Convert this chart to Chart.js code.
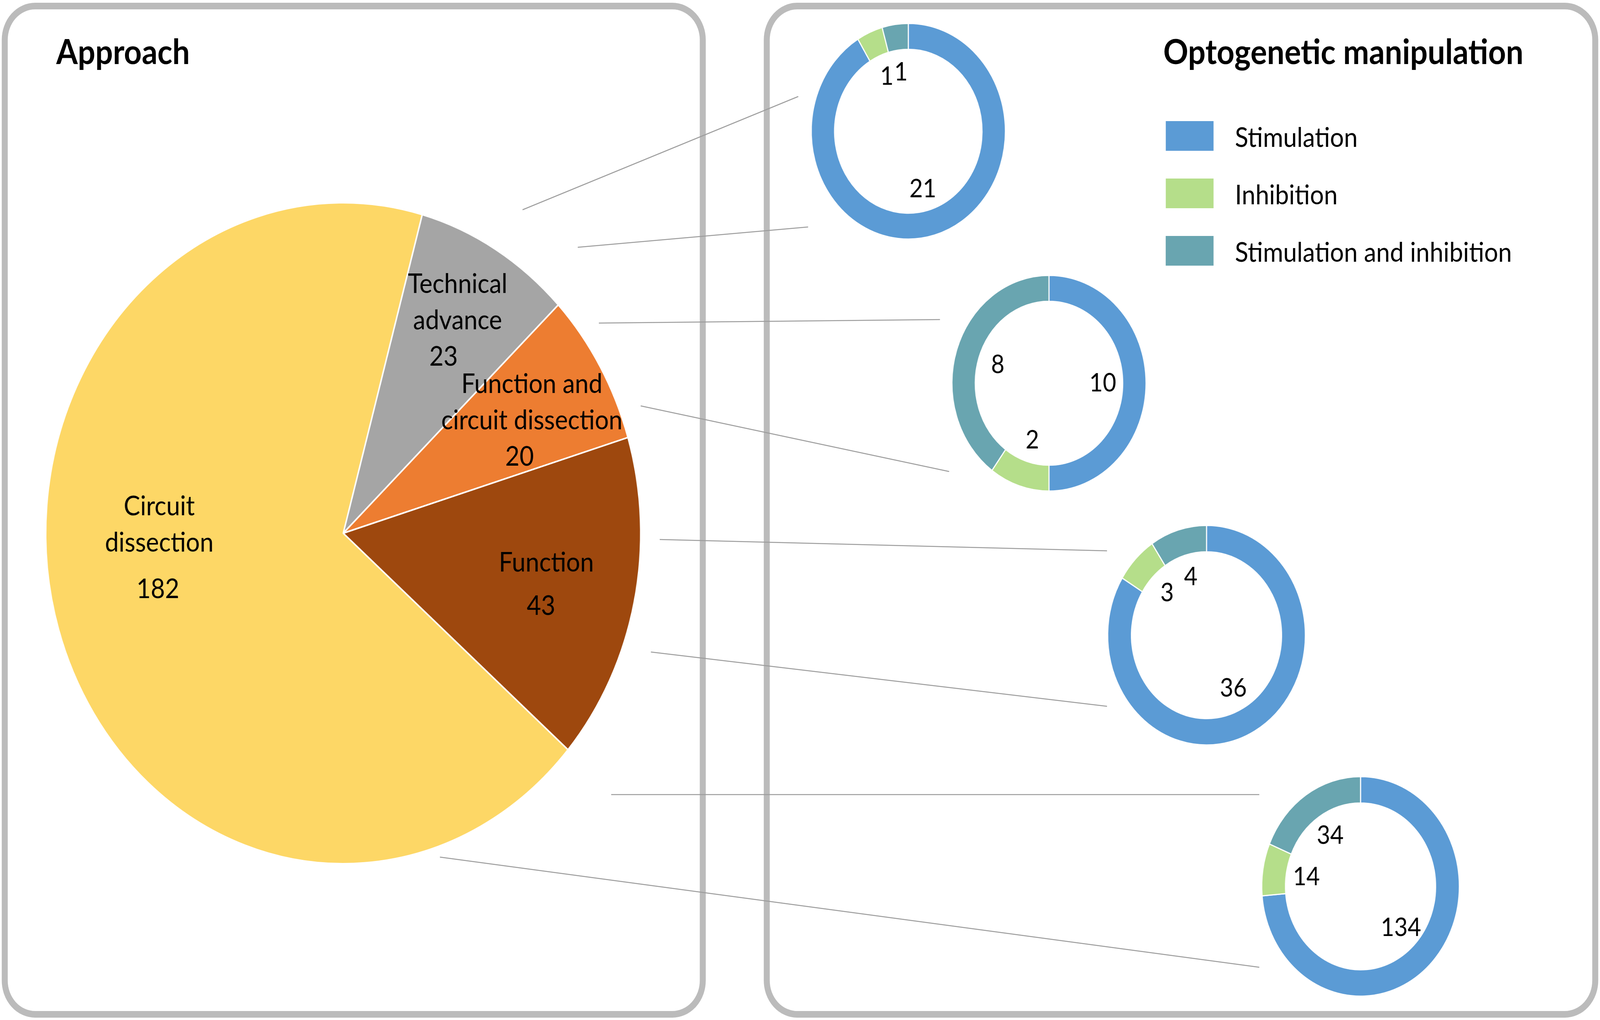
<!DOCTYPE html>
<html>
<head>
<meta charset="utf-8">
<script src="https://cdn.jsdelivr.net/npm/chart.js@4.4.0/dist/chart.umd.min.js"></script>
<style>
  html, body { margin: 0; padding: 0; background: #fff; overflow: hidden; }
  body { font-family: Lato, "Open Sans", sans-serif; }
  #page { position: absolute; left: 0; top: 0; width: 4550px; height: 2611px; transform-origin: 0 0; }
  .box { position: absolute; box-sizing: border-box; border: 17px solid #BBBBBB; border-radius: 95px; }
  canvas { position: absolute; }
  .title { position: absolute; font-weight: bold; font-size: 88px; line-height: 1.2; color: #000; white-space: nowrap; }
  .legText { position: absolute; font-size: 70px; line-height: 1.2; color: #000; white-space: nowrap; }
  .legSwatch { position: absolute; width: 136px; height: 76px; }
</style>
</head>
<body>
<div id="page">
<div class="box" style="left:5px;top:7px;width:2002px;height:2598px"></div>
<div class="box" style="left:2172px;top:7px;width:2373px;height:2598px"></div>
<canvas id="connectors" width="4550" height="2611" style="left:0;top:0"></canvas>
<div class="title" style="left:160px;top:78px">Approach</div>
<div class="title" style="left:3308px;top:78px">Optogenetic manipulation</div>
<div id="legend"></div>
<canvas id="pie"></canvas>
<canvas id="donut0"></canvas>
<canvas id="donut1"></canvas>
<canvas id="donut2"></canvas>
<canvas id="donut3"></canvas>
</div>
<script>
// approach categories (pie), clockwise from the gray slice
const approaches = [['Technical', 'advance'], ['Function and', 'circuit dissection'], ['Function'], ['Circuit', 'dissection']];
const approachCounts = [23, 20, 43, 182];

// optogenetic manipulation split for each approach
const manipulations = ['Stimulation', 'Inhibition', 'Stimulation and inhibition'];
const technicalSplit = [21, 1, 1];
const funcCircuitSplit = [10, 2, 8];
const functionSplit = [36, 3, 4];
const circuitSplit = [134, 14, 34];

const approachColors = ['#A5A5A5', '#ED7D31', '#9E480E', '#FDD766'];
const manipColors = ['#5B9BD5', '#B5DE8A', '#69A5B0'];

// label placement inside the pie slices (fraction of radius, extra turn in degrees)
const pieLabelReach = [0.75, 0.72, 0.70, 0.62];
const pieLabelTurn = [0, 2, 0.7, 12.7];
const pieValueGap = [0, 0, 18, 26];
const pieValueShift = [-40, -35, -15, -4];

// grey leader lines from the pie to the donuts
const connectors = [
  [1486, 537, 2270, 247], [1643, 633, 2298, 581],
  [1703, 827, 2673, 818], [1822, 1039, 2699, 1207],
  [1876, 1381, 3148, 1410], [1851, 1669, 3148, 1808],
  [1738, 2034, 3581, 2034], [1251, 2194, 3581, 2476]
];

// fit the 4550x2611 drawing into whatever viewport we get
const sx = window.innerWidth / 4550, sy = window.innerHeight / 2611;
document.getElementById('page').style.transform = 'scale(' + sx + ',' + sy + ')';

const lc = document.getElementById('connectors').getContext('2d');
lc.strokeStyle = '#9C9C9C';
lc.lineWidth = 2.5;
connectors.forEach(function (c) {
  lc.beginPath();
  lc.moveTo(c[0], c[1]);
  lc.lineTo(c[2], c[3]);
  lc.stroke();
});

// legend
const legend = document.getElementById('legend');
manipulations.forEach(function (name, i) {
  const top = 310 + i * 147;
  const sw = document.createElement('div');
  sw.className = 'legSwatch';
  sw.style.left = '3315px';
  sw.style.top = top + 'px';
  sw.style.background = manipColors[i];
  legend.appendChild(sw);
  const tx = document.createElement('div');
  tx.className = 'legText';
  tx.textContent = name;
  tx.style.left = '3512px';
  tx.style.top = (top + 38 + 28 - 0.987 * 70) + 'px';
  legend.appendChild(tx);
});

function place(id, cx, cy, size) {
  const cv = document.getElementById(id);
  cv.width = size;
  cv.height = size;
  cv.style.left = (cx - size / 2) + 'px';
  cv.style.top = (cy - size / 2) + 'px';
  return cv.getContext('2d');
}

const pieLabels = {
  id: 'pieLabels',
  afterDatasetsDraw(chart) {
    const ctx = chart.ctx;
    const meta = chart.getDatasetMeta(0);
    const values = chart.data.datasets[0].data;
    ctx.save();
    ctx.font = '70px Lato, "Open Sans", sans-serif';
    ctx.fillStyle = '#000';
    ctx.textAlign = 'center';
    ctx.textBaseline = 'middle';
    meta.data.forEach(function (arc, i) {
      const p = arc.getProps(['x', 'y', 'startAngle', 'endAngle', 'outerRadius'], true);
      const mid = (p.startAngle + p.endAngle) / 2 + pieLabelTurn[i] * Math.PI / 180;
      const r = pieLabelReach[i] * p.outerRadius;
      const ax = p.x + r * Math.cos(mid);
      const ay = p.y + r * Math.sin(mid);
      const lines = chart.data.labels[i].concat([String(values[i])]);
      const step = 93;
      const total = (lines.length - 1) * step + pieValueGap[i];
      let y = ay - total / 2;
      lines.forEach(function (t, k) {
        const last = k === lines.length - 1;
        if (last) y += pieValueGap[i];
        ctx.fillText(t, ax + (last ? pieValueShift[i] : 0), y);
        y += step;
      });
    });
    ctx.restore();
  }
};

const donutLabels = {
  id: 'donutLabels',
  afterDatasetsDraw(chart) {
    const ctx = chart.ctx;
    const meta = chart.getDatasetMeta(0);
    const values = chart.data.datasets[0].data;
    ctx.save();
    ctx.font = '66px Lato, "Open Sans", sans-serif';
    ctx.fillStyle = '#000';
    ctx.textAlign = 'center';
    ctx.textBaseline = 'middle';
    meta.data.forEach(function (arc, i) {
      const p = arc.getProps(['x', 'y', 'startAngle', 'endAngle', 'innerRadius'], true);
      const mid = (p.startAngle + p.endAngle) / 2;
      const r = 0.73 * p.innerRadius;
      ctx.fillText(String(values[i]), p.x + r * Math.cos(mid), p.y + r * Math.sin(mid));
    });
    ctx.restore();
  }
};

const baseOpts = {
  responsive: false,
  animation: false,
  events: [],
  devicePixelRatio: 1,
  layout: { padding: 0 },
  plugins: { legend: { display: false }, tooltip: { enabled: false } }
};

new Chart(place('pie', 976, 1365, 1720), {
  type: 'pie',
  data: {
    labels: approaches,
    datasets: [{
      data: approachCounts,
      backgroundColor: approachColors,
      borderColor: '#FFFFFF',
      borderWidth: 4
    }]
  },
  options: Object.assign({}, baseOpts, { rotation: 15.4, radius: 846 }),
  plugins: [pieLabels]
});

const donuts = [
  { id: 'donut0', split: technicalSplit, cx: 2583, cy: 336, r: 276 },
  { id: 'donut1', split: funcCircuitSplit, cx: 2983, cy: 981, r: 276 },
  { id: 'donut2', split: functionSplit, cx: 3431, cy: 1626, r: 281 },
  { id: 'donut3', split: circuitSplit, cx: 3869, cy: 2269, r: 281 }
];

donuts.forEach(function (d) {
  new Chart(place(d.id, d.cx, d.cy, 620), {
    type: 'doughnut',
    data: {
      labels: manipulations,
      datasets: [{
        data: d.split,
        backgroundColor: manipColors,
        borderColor: '#FFFFFF',
        borderWidth: 3
      }]
    },
    options: Object.assign({}, baseOpts, { radius: d.r, cutout: '76%' }),
    plugins: [donutLabels]
  });
});
</script>
</body>
</html>
